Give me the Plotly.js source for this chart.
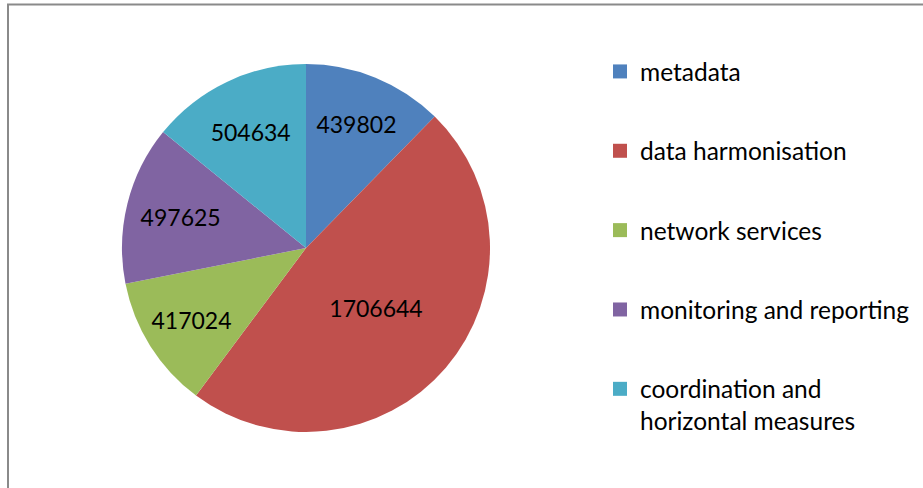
<!DOCTYPE html>
<html>
<head>
<meta charset="utf-8">
<script src="https://cdn.plot.ly/plotly-3.0.1.min.js"></script>
<style>html,body{margin:0;padding:0;background:#fff;}#chart{width:923px;height:488px;}</style>
</head>
<body>
<div id="chart"></div>
<script>
const categories = ['metadata', 'data harmonisation', 'network services', 'monitoring and reporting', 'coordination and horizontal measures'];
const legendLabels = ['metadata', 'data harmonisation', 'network services', 'monitoring and reporting', 'coordination and<br>horizontal measures'];
const values = [439802, 1706644, 417024, 497625, 504634];
const colors = ['#4F81BD', '#C0504D', '#9BBB59', '#8064A2', '#4BACC6'];

const W = 923, H = 488;
const cx = 306, cy = 248, r = 184;

const pie = {
  type: 'pie',
  labels: categories,
  values: values,
  sort: false,
  direction: 'clockwise',
  rotation: 0,
  marker: {colors: colors, line: {width: 0}},
  textinfo: 'value',
  texttemplate: '%{value:d}',
  textposition: 'inside',
  insidetextorientation: 'horizontal',
  textfont: {family: 'Lato, sans-serif', size: 23, color: '#000'},
  showlegend: false,
  hoverinfo: 'label+value',
  domain: {x: [(cx - r) / W, (cx + r) / W], y: [1 - (cy + r) / H, 1 - (cy - r) / H]}
};

const legendTraces = categories.map((c, i) => ({
  type: 'scatter',
  mode: 'markers',
  x: [null], y: [null],
  name: legendLabels[i],
  legendgroup: 'g' + i,
  marker: {symbol: 'square', size: 14, color: colors[i]},
  hoverinfo: 'skip'
}));

const layout = {
  width: W, height: H,
  margin: {l: 0, r: 0, t: 0, b: 0},
  paper_bgcolor: '#fff', plot_bgcolor: '#fff',
  font: {family: 'Lato, sans-serif', size: 24, color: '#000'},
  xaxis: {visible: false}, yaxis: {visible: false},
  showlegend: true,
  legend: {
    x: 600 / W, xanchor: 'left',
    y: 1 - 49 / H, yanchor: 'top',
    valign: 'top',
    tracegroupgap: 44.5,
    bgcolor: 'rgba(0,0,0,0)',
    font: {family: 'Lato, sans-serif', size: 24.5, color: '#000'}
  },
  shapes: [{
    type: 'rect', xref: 'paper', yref: 'paper',
    x0: 8 / W, x1: 1.05, y0: -0.05, y1: 1 - 4.5 / H,
    line: {color: '#8a8a8a', width: 2}, fillcolor: 'rgba(0,0,0,0)', layer: 'below'
  }]
};

Plotly.newPlot('chart', [pie].concat(legendTraces), layout, {displayModeBar: false, staticPlot: true});
</script>
</body>
</html>
